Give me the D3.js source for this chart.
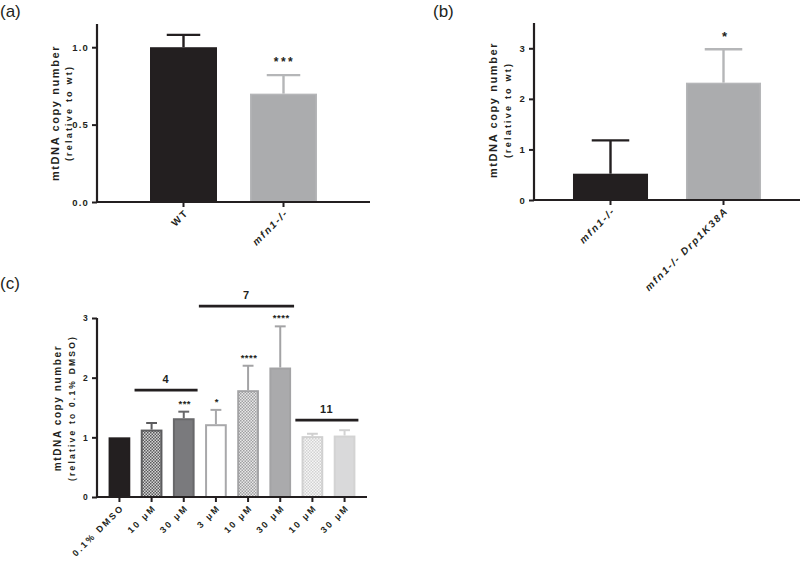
<!DOCTYPE html>
<html><head><meta charset="utf-8">
<script src="https://cdn.jsdelivr.net/npm/d3@7"></script>
<style>
body{margin:0;background:#fff;}
svg{display:block;}
text{font-family:"Liberation Sans",Arial,sans-serif;}
</style></head>
<body>
<svg id="chart" width="800" height="561"></svg>
<script>
// ---- data ----
const catsA = ["WT", "mfn1-/-"];
const valsA = [1.0, 0.70];
const errA = [0.08, 0.12];
const sigA = ["", "***"];
const ticksA = [0, 0.5, 1.0];

const catsB = ["mfn1-/-", "mfn1-/- Drp1K38A"];
const valsB = [0.52, 2.32];
const errB = [0.66, 0.66];
const sigB = ["", "*"];
const ticksB = [0, 1, 2, 3];

const catsC = ["0.1% DMSO", "10 μM", "30 μM", "3 μM", "10 μM ", "30 μM ", "10 μM  ", "30 μM  "];
const valsC = [1.0, 1.13, 1.32, 1.22, 1.79, 2.17, 1.02, 1.03];
const errC = [0, 0.11, 0.11, 0.24, 0.41, 0.69, 0.04, 0.09];
const sigC = ["", "", "***", "*", "****", "****", "", ""];
const ticksC = [0, 1, 2, 3];
const groupLabels = ["4", "7", "11"];
const groupFrom = [1, 3, 6];
const groupTo = [2, 5, 7];
const groupLevel = [1.79, 3.2, 1.29];

// ---- styles ----
const axisCol = "#231f20";
const svg = d3.select("#chart");
const defs = svg.append("defs");
function checker(id, c1, c2) {
  const p = defs.append("pattern").attr("id", id).attr("patternUnits", "userSpaceOnUse")
    .attr("width", 3).attr("height", 3);
  p.append("rect").attr("width", 3).attr("height", 3).attr("fill", c2);
  p.append("rect").attr("width", 1.5).attr("height", 1.5).attr("fill", c1);
  p.append("rect").attr("x", 1.5).attr("y", 1.5).attr("width", 1.5).attr("height", 1.5).attr("fill", c1);
}
checker("chk1", "#5a5a5c", "#d4d4d4");
checker("chk2", "#a0a0a2", "#e8e8e8");
checker("chk3", "#d2d2d2", "#f6f6f6");

const styleA = [{fill: "#231f20", stroke: "#231f20"}, {fill: "#abacae", stroke: "#b5b6b8"}];
const styleB = styleA;
const styleC = [
  {fill: "#231f20", stroke: "#231f20"},
  {fill: "url(#chk1)", stroke: "#5c5c5e"},
  {fill: "#7a7a7d", stroke: "#68686a"},
  {fill: "#ffffff", stroke: "#a8a8aa"},
  {fill: "url(#chk2)", stroke: "#a3a3a5"},
  {fill: "#aaaaac", stroke: "#a3a3a5"},
  {fill: "url(#chk3)", stroke: "#d0d0d0"},
  {fill: "#d9d9da", stroke: "#d3d3d3"}
];

function panel(opt) {
  const g = svg.append("g");
  const x = d3.scaleBand().domain(opt.cats).range(opt.xr).paddingInner(opt.pi).paddingOuter(opt.po);
  const y = d3.scaleLinear().domain(opt.yd).range(opt.yr);
  const bw = x.bandwidth();
  opt.cats.forEach((c, i) => {
    const st = opt.styles[i];
    const sw = opt.sw;
    const top = y(opt.vals[i]);
    if (opt.errs[i] > 0) {
      const ey = y(opt.vals[i] + opt.errs[i]);
      g.append("line").attr("x1", x(c) + bw / 2).attr("x2", x(c) + bw / 2)
        .attr("y1", top).attr("y2", ey).attr("stroke", st.stroke).attr("stroke-width", opt.esw);
      g.append("line").attr("x1", x(c) + bw / 4).attr("x2", x(c) + bw * 3 / 4)
        .attr("y1", ey).attr("y2", ey).attr("stroke", st.stroke).attr("stroke-width", opt.esw);
    }
    g.append("rect").attr("x", x(c) + sw / 2).attr("y", top + sw / 2)
      .attr("width", bw - sw).attr("height", Math.max(0, y(0) - top - sw / 2))
      .attr("fill", st.fill).attr("stroke", st.stroke).attr("stroke-width", sw);
    if (opt.sig[i]) {
      const ey = y(opt.vals[i] + opt.errs[i]);
      g.append("text").attr("x", x(c) + bw / 2 + 1).attr("y", ey - opt.sigGap)
        .attr("text-anchor", "middle").attr("font-size", opt.sigSize).attr("font-weight", "bold")
        .attr("letter-spacing", opt.sigLS).attr("fill", "#231f20").text(opt.sig[i]);
    }
  });
  const ya = g.append("g").attr("transform", `translate(${opt.xr[0]},0)`)
    .call(d3.axisLeft(y).tickValues(opt.ticks).tickFormat(opt.fmt).tickSize(5).tickPadding(3));
  ya.select(".domain").attr("d", `M0,${opt.yr[1]}V${opt.yr[0]}`);
  const xa = g.append("g").attr("transform", `translate(0,${opt.yr[0]})`)
    .call(d3.axisBottom(x).tickSize(5).tickFormat(""));
  xa.select(".domain").attr("d", `M${opt.xr[0]},0H${opt.xr[1]}`);
  g.selectAll(".domain").attr("stroke", axisCol).attr("stroke-width", 2.2);
  g.selectAll(".tick line").attr("stroke", axisCol).attr("stroke-width", 2);
  ya.selectAll("text").attr("font-size", opt.tickSize).attr("font-weight", "bold")
    .attr("fill", "#231f20").attr("letter-spacing", 1.2).attr("font-family", "Liberation Sans, Arial, sans-serif");
  opt.cats.forEach((c, i) => {
    const cx = x(c) + bw / 2 + 3, cy = opt.yr[0] + opt.xlOff;
    const t = g.append("text").attr("transform", `translate(${cx},${cy}) rotate(-45)`)
      .attr("text-anchor", "end").attr("dy", "0.35em").attr("font-size", opt.xlSize)
      .attr("font-weight", "bold").attr("letter-spacing", opt.xlLS).attr("fill", "#231f20");
    const lbl = opt.labels ? opt.labels[i] : [{t: c.trim()}];
    lbl.forEach(p => {
      t.append("tspan").attr("font-style", p.it ? "italic" : "normal").text(p.t);
    });
  });
  opt.ylab.forEach(l => {
    g.append("text").attr("transform", `translate(${l.x},${opt.ylY}) rotate(-90)`)
      .attr("text-anchor", "middle").attr("font-size", l.size).attr("font-weight", "bold")
      .attr("letter-spacing", l.ls).attr("fill", "#231f20").text(l.t);
  });
  return {g, x, y, bw};
}

// (a)
panel({
  cats: catsA, vals: valsA, errs: errA, sig: sigA, ticks: ticksA, styles: styleA,
  xr: [97, 370], yr: [202, 24], yd: [0, 1.15], pi: 0.33, po: 0.53, sw: 1.5, esw: 2.4,
  fmt: d3.format(".1f"), tickSize: 9.5, sigSize: 12, sigLS: 2.5, sigGap: 9,
  xlOff: 9, xlSize: 10, xlLS: 1.8,
  labels: [[{t: "WT"}], [{t: "mfn1-/-", it: true}]],
  ylY: 113,
  ylab: [{t: "mtDNA copy number", x: 59, size: 11, ls: 1.6}, {t: "(relative to wt)", x: 72, size: 9, ls: 2.2}]
});

// (b)
panel({
  cats: catsB, vals: valsB, errs: errB, sig: sigB, ticks: ticksB, styles: styleB,
  xr: [534, 800], yr: [200, 23], yd: [0, 3.5], pi: 0.336, po: 0.345, sw: 1.5, esw: 2.4,
  fmt: d3.format("d"), tickSize: 9.5, sigSize: 13, sigLS: 0, sigGap: 8,
  xlOff: 9, xlSize: 10, xlLS: 1.8,
  labels: [[{t: "mfn1-/-", it: true}], [{t: "mfn1-/-", it: true}, {t: " Drp1K38A", it: true}]],
  ylY: 110,
  ylab: [{t: "mtDNA copy number", x: 497, size: 11, ls: 1.6}, {t: "(relative to wt)", x: 511, size: 9, ls: 2.2}]
});

// (c)
const pc = panel({
  cats: catsC, vals: valsC, errs: errC, sig: sigC, ticks: ticksC, styles: styleC,
  xr: [97, 367], yr: [497, 318], yd: [0, 3], pi: 0.325, po: 0.36, sw: 2, esw: 2,
  fmt: d3.format("d"), tickSize: 8.5, sigSize: 9.5, sigLS: 0.5, sigGap: 5,
  xlOff: 9, xlSize: 9, xlLS: 2.1,
  ylY: 408,
  ylab: [{t: "mtDNA copy number", x: 61, size: 10, ls: 1.6}, {t: "(relative to 0.1% DMSO)", x: 75, size: 8.5, ls: 2.2}]
});
const step = pc.x.step();
groupLabels.forEach((lab, k) => {
  const x1 = pc.x(catsC[groupFrom[k]]) + pc.bw / 2 - step * 0.53;
  const x2 = pc.x(catsC[groupTo[k]]) + pc.bw / 2 + step * 0.43;
  const yy = pc.y(groupLevel[k]);
  pc.g.append("line").attr("x1", x1).attr("x2", x2).attr("y1", yy).attr("y2", yy)
    .attr("stroke", "#231f20").attr("stroke-width", 2.8);
  pc.g.append("text").attr("x", (x1 + x2) / 2).attr("y", yy - 7).attr("text-anchor", "middle")
    .attr("font-size", 11).attr("font-weight", "bold").attr("letter-spacing", 1).attr("fill", "#231f20").text(lab);
});

[["(a)", 0, 17], ["(b)", 433, 17], ["(c)", 0, 289]].forEach(d => {
  svg.append("text").attr("x", d[1]).attr("y", d[2]).attr("font-size", 17)
    .attr("font-family", "Open Sans, sans-serif").attr("fill", "#231f20").text(d[0]);
});
</script>
</body></html>
